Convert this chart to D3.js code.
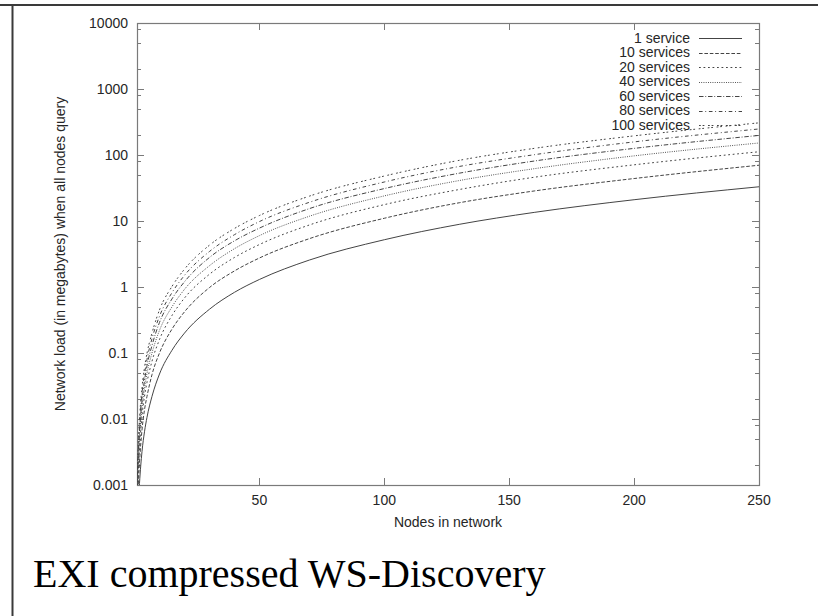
<!DOCTYPE html>
<html>
<head>
<meta charset="utf-8">
<script src="https://cdn.jsdelivr.net/npm/d3@7"></script>
<style>
  body { margin: 0; background: #fff; }
  svg { display: block; }
</style>
</head>
<body>
<div id="chart"></div>
<script>
/////////////////////////////////////////////////////////
///////////////////////// Data //////////////////////////
/////////////////////////////////////////////////////////

const nodes = [1, 2, 3, 4, 5, 7, 10, 15, 20, 30, 40, 50, 70, 100, 130, 160, 200, 250];

const svc1   = [0.0002, 0.00106, 0.0032, 0.0064, 0.0106, 0.022, 0.048, 0.11, 0.2, 0.46, 0.83, 1.3, 2.56, 5.2, 8.9, 13.5, 21, 33];
const svc10  = [0.0004, 0.0022, 0.0068, 0.0138, 0.022, 0.047, 0.1, 0.23, 0.42, 0.98, 1.75, 2.75, 5.4, 11, 18.9, 28.5, 44, 70];
const svc20  = [0.0006, 0.0036, 0.011, 0.022, 0.036, 0.075, 0.16, 0.37, 0.68, 1.56, 2.8, 4.4, 8.7, 17.7, 30, 46, 71, 112];
const svc40  = [0.0008, 0.0049, 0.015, 0.029, 0.049, 0.1, 0.22, 0.5, 0.92, 2.1, 3.8, 6.0, 11.8, 24, 41, 62, 97, 152];
const svc60  = [0.001, 0.0064, 0.019, 0.038, 0.064, 0.13, 0.29, 0.66, 1.2, 2.8, 5.0, 7.8, 15.4, 31, 53, 81, 126, 198];
const svc80  = [0.0012, 0.008, 0.024, 0.048, 0.08, 0.165, 0.36, 0.82, 1.5, 3.45, 6.2, 9.8, 19.2, 39, 67, 101, 158, 248];
const svc100 = [0.0015, 0.0099, 0.03, 0.06, 0.099, 0.2, 0.45, 1.02, 1.86, 4.3, 7.7, 12.1, 23.8, 48, 83, 126, 195, 307];

const seriesNames = ["1 service", "10 services", "20 services", "40 services", "60 services", "80 services", "100 services"];
const seriesValues = [svc1, svc10, svc20, svc40, svc60, svc80, svc100];

const xTicks = [50, 100, 150, 200, 250];
const yTicks = [0.001, 0.01, 0.1, 1, 10, 100, 1000, 10000];
const yTickLabels = ["0.001", "0.01", "0.1", "1", "10", "100", "1000", "10000"];

const xLabel = "Nodes in network";
const yLabel = "Network load (in megabytes) when all nodes query";
const caption = "EXI compressed WS-Discovery";

/////////////////////////////////////////////////////////
//////////////////////// Setup //////////////////////////
/////////////////////////////////////////////////////////

const W = 818, H = 616;
const plot = { left: 137, right: 759, top: 23, bottom: 485 };

// gnuplot postscript dash patterns, scaled down
const dashUnit = 0.9;
const dashes = [null, [4, 2], [2, 3], [1, 1.5], [5, 2, 1, 2], [4, 3, 1, 3], [2, 2, 2, 4]];

const svg = d3.select("#chart").append("svg")
  .attr("width", W)
  .attr("height", H);

const x = d3.scaleLinear().domain([1, 250]).range([plot.left, plot.right]);
const y = d3.scaleLog().domain([0.001, 10000]).range([plot.bottom, plot.top]);

const axisColor = "#7a7a7a";
const textColor = "#262626";
const lineColor = "#444";
const font = "'Liberation Sans', Arial, sans-serif";
const fontSize = "14px";

/////////////////////////////////////////////////////////
///////////////////// Page frame ////////////////////////
/////////////////////////////////////////////////////////

svg.append("line")
  .attr("x1", 0).attr("x2", W).attr("y1", 5).attr("y2", 5)
  .style("stroke", "#3a3a3a").style("stroke-width", 2);
svg.append("line")
  .attr("x1", 12.5).attr("x2", 12.5).attr("y1", 5).attr("y2", H)
  .style("stroke", "#3a3a3a").style("stroke-width", 2);

/////////////////////////////////////////////////////////
//////////////////////// Axes ///////////////////////////
/////////////////////////////////////////////////////////

const g = svg.append("g");

// minor log ticks (the visible ones in the scan)
const minorY = [];
yTicks.slice(0, -1).forEach(d => [2, 5, 8].forEach(m => minorY.push(d * m)));

// left + right ticks, pointing inward
[[plot.left, 1], [plot.right, -1]].forEach(([px, dir]) => {
  g.selectAll(null).data(yTicks.slice(1, -1)).enter().append("line")
    .attr("x1", px).attr("x2", px + dir * 7)
    .attr("y1", d => Math.round(y(d)) + 0.5).attr("y2", d => Math.round(y(d)) + 0.5)
    .style("stroke", axisColor);
  g.selectAll(null).data(minorY).enter().append("line")
    .attr("x1", px).attr("x2", px + dir * 4)
    .attr("y1", d => Math.round(y(d)) + 0.5).attr("y2", d => Math.round(y(d)) + 0.5)
    .style("stroke", axisColor);
});

// bottom + top ticks
[[plot.bottom, -1], [plot.top, 1]].forEach(([py, dir]) => {
  g.selectAll(null).data(xTicks.slice(0, -1)).enter().append("line")
    .attr("x1", d => Math.round(x(d)) + 0.5).attr("x2", d => Math.round(x(d)) + 0.5)
    .attr("y1", py).attr("y2", py + dir * 7)
    .style("stroke", axisColor);
});

// border
g.append("rect")
  .attr("x", plot.left + 0.5).attr("y", plot.top + 0.5)
  .attr("width", plot.right - plot.left).attr("height", plot.bottom - plot.top)
  .style("fill", "none").style("stroke", axisColor).style("stroke-width", 1.2);

// tick labels
g.selectAll(".ylab").data(yTicks).enter().append("text")
  .attr("x", plot.left - 9)
  .attr("y", d => y(d))
  .attr("dy", "0.35em")
  .attr("text-anchor", "end")
  .style("font-family", font).style("font-size", fontSize).style("fill", textColor)
  .text((d, i) => yTickLabels[i]);

g.selectAll(".xlab").data(xTicks).enter().append("text")
  .attr("x", d => x(d))
  .attr("y", plot.bottom + 15)
  .attr("dy", "0.35em")
  .attr("text-anchor", "middle")
  .style("font-family", font).style("font-size", fontSize).style("fill", textColor)
  .text(d => d);

// axis titles
g.append("text")
  .attr("x", (plot.left + plot.right) / 2)
  .attr("y", plot.bottom + 37)
  .attr("dy", "0.35em")
  .attr("text-anchor", "middle")
  .style("font-family", font).style("font-size", fontSize).style("fill", textColor)
  .text(xLabel);

g.append("text")
  .attr("transform", "translate(60," + (plot.top + plot.bottom) / 2 + ") rotate(-90)")
  .attr("dy", "0.35em")
  .attr("text-anchor", "middle")
  .style("font-family", font).style("font-size", fontSize).style("fill", textColor)
  .text(yLabel);

/////////////////////////////////////////////////////////
/////////////////////// Curves //////////////////////////
/////////////////////////////////////////////////////////

svg.append("clipPath").attr("id", "plotClip")
  .append("rect")
  .attr("x", plot.left).attr("y", plot.top)
  .attr("width", plot.right - plot.left).attr("height", plot.bottom - plot.top);

const line = d3.line()
  .x((d, i) => x(nodes[i]))
  .y(d => y(d))
  .curve(d3.curveMonotoneX);

svg.append("g").attr("clip-path", "url(#plotClip)")
  .selectAll("path").data(seriesValues).enter().append("path")
  .attr("d", d => line(d))
  .style("fill", "none")
  .style("stroke", lineColor)
  .style("stroke-width", 1)
  .style("stroke-dasharray", (d, i) => dashes[i] ? dashes[i].map(v => v * dashUnit).join(",") : null);

/////////////////////////////////////////////////////////
/////////////////////// Legend //////////////////////////
/////////////////////////////////////////////////////////

const legend = svg.append("g");
const legRow = d3.scaleLinear().domain([0, 1]).range([38, 52.5]);

legend.selectAll("text").data(seriesNames).enter().append("text")
  .attr("x", 690)
  .attr("y", (d, i) => legRow(i))
  .attr("dy", "0.35em")
  .attr("text-anchor", "end")
  .style("font-family", font).style("font-size", fontSize).style("fill", textColor)
  .text(d => d);

legend.selectAll("line").data(seriesNames).enter().append("line")
  .attr("x1", 699).attr("x2", 742)
  .attr("y1", (d, i) => Math.round(legRow(i)) + 0.5)
  .attr("y2", (d, i) => Math.round(legRow(i)) + 0.5)
  .style("stroke", lineColor)
  .style("stroke-dasharray", (d, i) => dashes[i] ? dashes[i].map(v => v * dashUnit).join(",") : null);

/////////////////////////////////////////////////////////
/////////////////////// Caption /////////////////////////
/////////////////////////////////////////////////////////

svg.append("text")
  .attr("x", 33)
  .attr("y", 587)
  .style("font-family", "'Liberation Serif', 'Times New Roman', serif")
  .style("font-size", "40px")
  .style("fill", "#000")
  .text(caption);
</script>
</body>
</html>
